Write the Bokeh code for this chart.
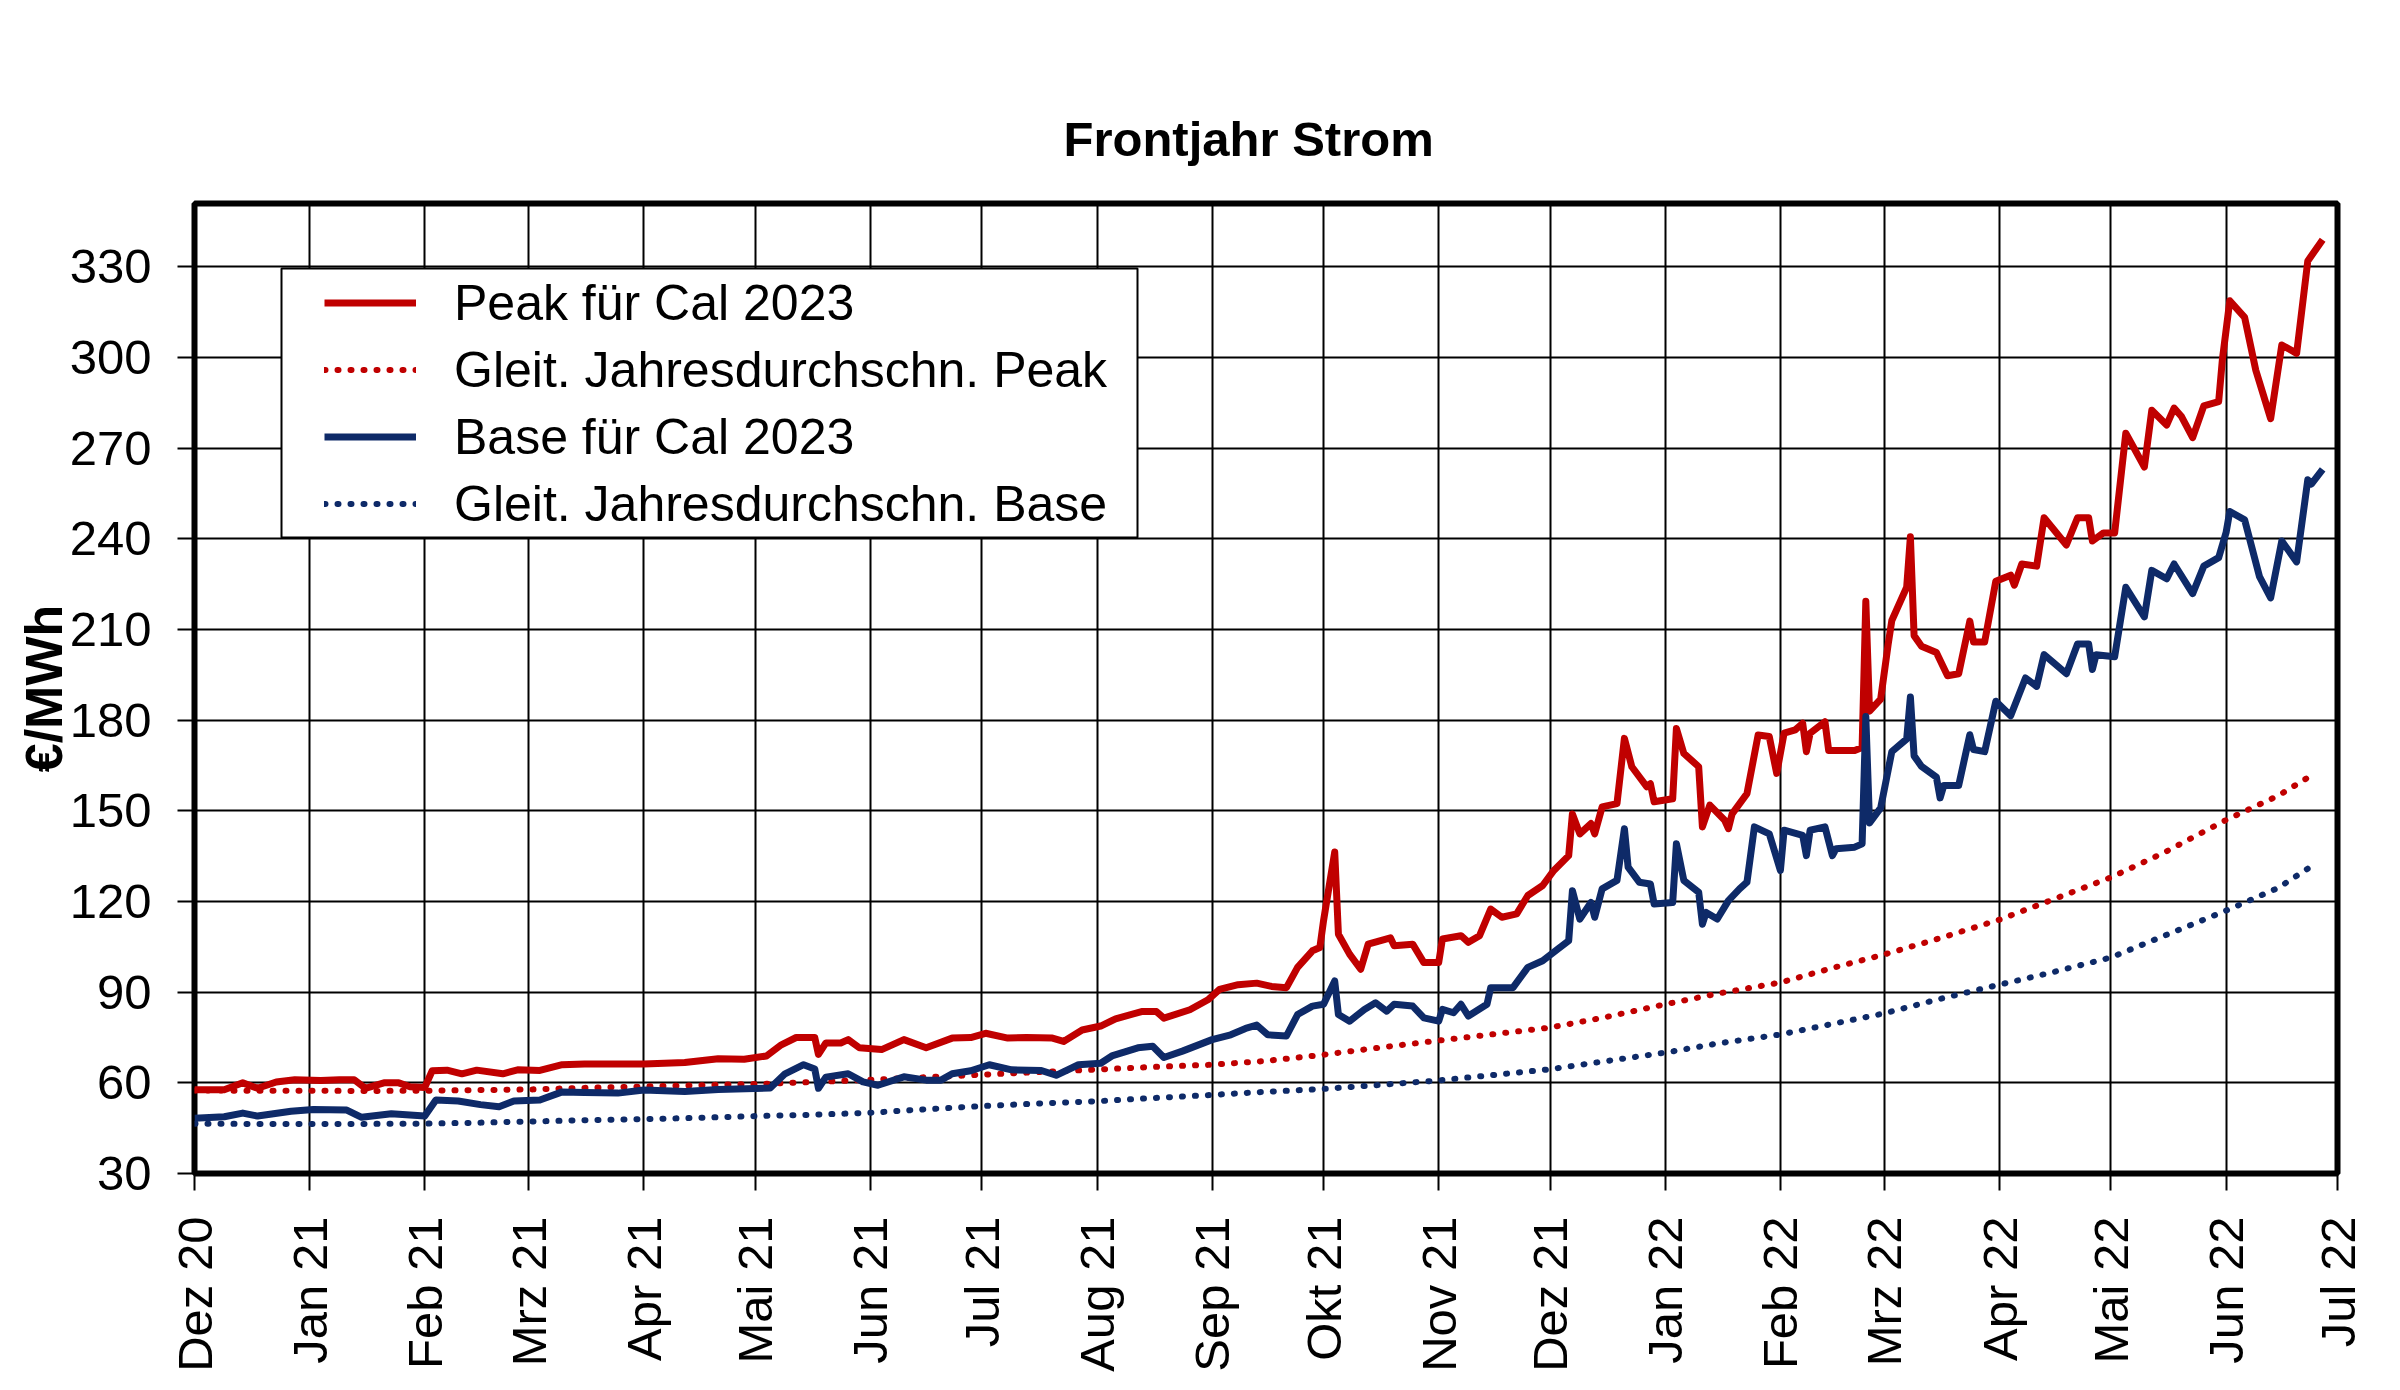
import math
import pandas as pd
from bokeh.plotting import figure
from bokeh.models import FixedTicker, Range1d, Legend, LegendItem, BoxAnnotation
from bokeh.embed import file_html
from bokeh.resources import INLINE

# ---------------- data ----------------
month_starts = ["2020-12-01", "2021-01-01", "2021-02-01", "2021-03-01", "2021-04-01",
                "2021-05-01", "2021-06-01", "2021-07-01", "2021-08-01", "2021-09-01",
                "2021-10-01", "2021-11-01", "2021-12-01", "2022-01-01", "2022-02-01",
                "2022-03-01", "2022-04-01", "2022-05-01", "2022-06-01", "2022-07-01"]
month_labels = ["Dez 20", "Jan 21", "Feb 21", "Mrz 21", "Apr 21", "Mai 21", "Jun 21",
                "Jul 21", "Aug 21", "Sep 21", "Okt 21", "Nov 21", "Dez 21", "Jan 22",
                "Feb 22", "Mrz 22", "Apr 22", "Mai 22", "Jun 22", "Jul 22"]
y_ticks = [30, 60, 90, 120, 150, 180, 210, 240, 270, 300, 330]

peak_dates = ["2020-12-01", "2020-12-09", "2020-12-14", "2020-12-18", "2020-12-23", "2020-12-28",
              "2021-01-04", "2021-01-09", "2021-01-13", "2021-01-16", "2021-01-21", "2021-01-25",
              "2021-01-28", "2021-02-01", "2021-02-03", "2021-02-07", "2021-02-11", "2021-02-15",
              "2021-02-22", "2021-02-26", "2021-03-04", "2021-03-10", "2021-03-16", "2021-04-01",
              "2021-04-12", "2021-04-21", "2021-04-28", "2021-05-04", "2021-05-08", "2021-05-12",
              "2021-05-17", "2021-05-18", "2021-05-20", "2021-05-24", "2021-05-26", "2021-05-29",
              "2021-06-04", "2021-06-10", "2021-06-16", "2021-06-23", "2021-06-28", "2021-07-02",
              "2021-07-08", "2021-07-13", "2021-07-20", "2021-07-23", "2021-07-28", "2021-08-02",
              "2021-08-06", "2021-08-13", "2021-08-17", "2021-08-19", "2021-08-26", "2021-08-31",
              "2021-09-03", "2021-09-08", "2021-09-13", "2021-09-17", "2021-09-21", "2021-09-24",
              "2021-09-28", "2021-09-30", "2021-10-01", "2021-10-04", "2021-10-05", "2021-10-08",
              "2021-10-11", "2021-10-13", "2021-10-19", "2021-10-20", "2021-10-25", "2021-10-28",
              "2021-11-01", "2021-11-02", "2021-11-07", "2021-11-09", "2021-11-12", "2021-11-15",
              "2021-11-18", "2021-11-22", "2021-11-25", "2021-11-29", "2021-12-02", "2021-12-06",
              "2021-12-07", "2021-12-09", "2021-12-12", "2021-12-13", "2021-12-15", "2021-12-19",
              "2021-12-21", "2021-12-23", "2021-12-27", "2021-12-28", "2021-12-29", "2022-01-03",
              "2022-01-04", "2022-01-06", "2022-01-10", "2022-01-11", "2022-01-13", "2022-01-17",
              "2022-01-18", "2022-01-19", "2022-01-23", "2022-01-26", "2022-01-29", "2022-01-31",
              "2022-02-02", "2022-02-05", "2022-02-07", "2022-02-08", "2022-02-09", "2022-02-13",
              "2022-02-14", "2022-02-21", "2022-02-23", "2022-02-24", "2022-02-25", "2022-02-28",
              "2022-03-02", "2022-03-03", "2022-03-07", "2022-03-08", "2022-03-09", "2022-03-11",
              "2022-03-15", "2022-03-18", "2022-03-21", "2022-03-24", "2022-03-25", "2022-03-28",
              "2022-03-31", "2022-04-04", "2022-04-05", "2022-04-07", "2022-04-11", "2022-04-13",
              "2022-04-19", "2022-04-22", "2022-04-25", "2022-04-26", "2022-04-29", "2022-05-02",
              "2022-05-05", "2022-05-10", "2022-05-12", "2022-05-16", "2022-05-18", "2022-05-20",
              "2022-05-23", "2022-05-26", "2022-05-30", "2022-05-31", "2022-06-02", "2022-06-06",
              "2022-06-09", "2022-06-13", "2022-06-16", "2022-06-20", "2022-06-23", "2022-06-27"]
peak_values = [57.7, 57.7, 60.0, 58.2, 60.3, 61.0,
               60.8, 61.0, 61.0, 58.2, 60.0, 60.0,
               58.7, 58.5, 64.0, 64.2, 63.0, 64.2,
               63.0, 64.3, 64.1, 66.0, 66.2, 66.2,
               66.7, 68.0, 67.8, 68.9, 72.6, 75.0,
               75.0, 69.4, 73.2, 73.2, 74.3, 71.6,
               71.0, 74.3, 71.6, 74.8, 75.0, 76.4,
               74.8, 75.0, 74.8, 73.7, 77.5, 78.8,
               81.2, 83.6, 83.6, 81.4, 84.2, 87.6,
               90.9, 92.5, 93.0, 91.9, 91.5, 98.2,
               103.7, 104.8, 113.7, 136.4, 109.2, 102.6,
               97.6, 105.9, 108.0, 105.4, 105.9, 99.8,
               99.8, 107.6, 108.7, 106.5, 108.7, 117.5,
               114.8, 115.9, 122.0, 125.3, 130.3, 135.2,
               149.0, 142.4, 145.8, 142.4, 151.3, 152.4,
               174.0, 164.6, 158.0, 159.0, 153.0, 154.0,
               177.3, 169.0, 164.6, 144.7, 151.9, 146.9,
               144.1, 149.0, 155.7, 175.1, 174.6, 162.4,
               175.7, 176.8, 179.0, 169.6, 175.7, 179.5,
               170.0, 170.0, 171.0, 219.4, 183.0, 187.0,
               205.0, 213.0, 224.0, 240.7, 208.0, 204.5,
               202.4, 194.7, 195.4, 212.8, 205.9, 205.9,
               226.0, 228.0, 224.7, 231.7, 231.0, 247.0,
               238.0, 247.0, 247.0, 239.3, 242.0, 242.0,
               275.0, 263.8, 282.6, 277.7, 283.3, 280.5,
               273.5, 284.0, 285.4, 299.3, 318.8, 313.3,
               295.8, 279.8, 304.2, 301.4, 332.0, 339.0]

base_dates = ["2020-12-01", "2020-12-09", "2020-12-14", "2020-12-18", "2020-12-27", "2021-01-02",
              "2021-01-11", "2021-01-15", "2021-01-23", "2021-02-01", "2021-02-04", "2021-02-10",
              "2021-02-16", "2021-02-21", "2021-02-25", "2021-03-04", "2021-03-10", "2021-03-16",
              "2021-03-25", "2021-04-01", "2021-04-12", "2021-04-21", "2021-05-05", "2021-05-09",
              "2021-05-14", "2021-05-17", "2021-05-18", "2021-05-20", "2021-05-26", "2021-05-30",
              "2021-06-03", "2021-06-10", "2021-06-16", "2021-06-20", "2021-06-23", "2021-06-28",
              "2021-07-03", "2021-07-09", "2021-07-17", "2021-07-21", "2021-07-27", "2021-08-02",
              "2021-08-05", "2021-08-12", "2021-08-16", "2021-08-19", "2021-08-24", "2021-09-01",
              "2021-09-06", "2021-09-10", "2021-09-13", "2021-09-16", "2021-09-21", "2021-09-24",
              "2021-09-28", "2021-10-01", "2021-10-04", "2021-10-05", "2021-10-08", "2021-10-12",
              "2021-10-15", "2021-10-18", "2021-10-20", "2021-10-25", "2021-10-28", "2021-11-01",
              "2021-11-02", "2021-11-05", "2021-11-07", "2021-11-09", "2021-11-14", "2021-11-15",
              "2021-11-21", "2021-11-25", "2021-11-29", "2021-12-03", "2021-12-06", "2021-12-07",
              "2021-12-09", "2021-12-12", "2021-12-13", "2021-12-15", "2021-12-19", "2021-12-21",
              "2021-12-22", "2021-12-25", "2021-12-28", "2021-12-29", "2022-01-03", "2022-01-04",
              "2022-01-06", "2022-01-10", "2022-01-11", "2022-01-12", "2022-01-15", "2022-01-18",
              "2022-01-21", "2022-01-23", "2022-01-25", "2022-01-29", "2022-02-01", "2022-02-02",
              "2022-02-07", "2022-02-08", "2022-02-09", "2022-02-13", "2022-02-15", "2022-02-16",
              "2022-02-21", "2022-02-23", "2022-02-24", "2022-02-25", "2022-02-28", "2022-03-03",
              "2022-03-07", "2022-03-08", "2022-03-09", "2022-03-11", "2022-03-15", "2022-03-16",
              "2022-03-17", "2022-03-21", "2022-03-24", "2022-03-25", "2022-03-28", "2022-03-31",
              "2022-04-04", "2022-04-08", "2022-04-11", "2022-04-13", "2022-04-19", "2022-04-22",
              "2022-04-25", "2022-04-26", "2022-04-27", "2022-05-02", "2022-05-05", "2022-05-10",
              "2022-05-12", "2022-05-16", "2022-05-18", "2022-05-23", "2022-05-26", "2022-05-30",
              "2022-06-01", "2022-06-02", "2022-06-06", "2022-06-10", "2022-06-13", "2022-06-16",
              "2022-06-20", "2022-06-23", "2022-06-24", "2022-06-27"]
base_values = [48.3, 48.8, 50.0, 49.0, 50.6, 51.2,
               51.0, 48.6, 49.8, 49.0, 54.3, 54.0,
               52.8, 52.1, 54.0, 54.3, 57.0, 56.8,
               56.6, 57.6, 57.1, 57.8, 58.3, 63.0,
               66.0, 64.6, 58.2, 61.9, 63.0, 60.3,
               59.2, 62.0, 60.9, 60.9, 63.0, 64.0,
               66.0, 64.3, 64.1, 62.5, 66.0, 66.5,
               68.9, 71.6, 72.1, 68.4, 70.5, 74.3,
               75.9, 78.0, 79.1, 75.9, 75.5, 82.6,
               85.4, 86.0, 93.7, 82.6, 80.4, 84.3,
               86.5, 83.7, 86.0, 85.4, 81.5, 80.4,
               84.3, 83.2, 86.0, 82.1, 86.0, 91.5,
               91.5, 98.2, 100.4, 104.2, 107.0, 123.6,
               114.2, 119.7, 114.8, 124.2, 127.0, 144.1,
               131.4, 126.4, 125.8, 119.2, 119.7, 139.1,
               127.0, 123.1, 112.5, 116.4, 114.2, 120.3,
               124.2, 126.4, 144.7, 142.4, 130.3, 143.6,
               141.9, 135.2, 143.6, 144.7, 135.2, 137.5,
               138.0, 139.1, 181.2, 146.0, 151.0, 169.6,
               173.8, 187.7, 168.2, 164.7, 161.2, 154.3,
               158.4, 158.4, 175.2, 170.3, 169.6, 186.3,
               181.5, 194.0, 191.2, 201.7, 195.4, 205.2,
               205.2, 196.8, 201.7, 201.0, 224.0, 214.2,
               229.6, 226.8, 231.7, 221.9, 231.0, 233.8,
               242.1, 249.1, 246.3, 227.5, 220.5, 239.3,
               232.4, 259.6, 258.2, 263.0]

avg_dates = ["2020-12-01", "2020-12-15", "2021-01-01", "2021-01-15", "2021-02-01", "2021-02-15",
             "2021-03-01", "2021-03-15", "2021-04-01", "2021-04-15", "2021-05-01", "2021-05-15",
             "2021-06-01", "2021-06-15", "2021-07-01", "2021-07-15", "2021-08-01", "2021-08-15",
             "2021-09-01", "2021-09-15", "2021-10-01", "2021-10-15", "2021-11-01", "2021-11-15",
             "2021-12-01", "2021-12-15", "2022-01-01", "2022-01-15", "2022-02-01", "2022-02-15",
             "2022-03-01", "2022-03-15", "2022-04-01", "2022-04-15", "2022-05-01", "2022-05-15",
             "2022-06-01", "2022-06-15", "2022-06-25"]
peak_avg_values = [57.5, 57.4, 57.4, 57.3, 57.4, 57.6,
                   57.8, 58.3, 58.8, 59.2, 59.6, 60.2,
                   61.0, 61.8, 62.7, 63.5, 64.4, 65.2,
                   66.0, 67.2, 69.3, 71.5, 74.0, 76.0,
                   78.3, 81.5, 86.0, 89.5, 93.2, 98.0,
                   102.5, 107.5, 114.0, 120.5, 128.0, 136.0,
                   147.0, 155.0, 162.5]
base_avg_values = [46.5, 46.4, 46.4, 46.4, 46.5, 46.8,
                   47.2, 47.6, 48.0, 48.4, 49.0, 49.4,
                   50.1, 51.2, 52.3, 53.1, 53.9, 54.9,
                   56.0, 57.0, 58.0, 59.2, 60.8, 62.5,
                   64.5, 67.0, 70.0, 73.0, 76.0, 79.5,
                   83.0, 87.5, 92.5, 96.5, 101.5, 108.5,
                   117.0, 124.5, 132.5]

# ---------------- helpers ----------------
EPOCH = pd.Timestamp("1970-01-01")


def to_ms(dates):
    return [float((pd.Timestamp(d) - EPOCH) // pd.Timedelta(milliseconds=1)) for d in dates]


RED = "#C00000"
BLUE = "#0E2A68"
FONT = "Liberation Sans"

month_ms = to_ms(month_starts)

p = figure(width=2384, height=1374, output_backend="svg", toolbar_location=None,
           x_range=Range1d(month_ms[0], month_ms[-1]), y_range=Range1d(30, 351),
           min_border_left=194, min_border_right=47, min_border_top=203,
           min_border_bottom=199, background_fill_color="white",
           border_fill_color="white")

# title
p.title.text = "Frontjahr Strom"
p.title.text_font = FONT
p.title.text_font_size = "49px"
p.title.text_font_style = "bold"
p.title.text_color = "black"
p.title.align = "left"
p.title.offset = 869
p.title.standoff = 75

# frame
p.outline_line_color = "black"
p.outline_line_width = 6
p.outline_line_alpha = 1

# grids
p.xgrid.ticker = FixedTicker(ticks=month_ms)
p.ygrid.ticker = FixedTicker(ticks=y_ticks)
for g in (p.xgrid, p.ygrid):
    g.grid_line_color = "black"
    g.grid_line_width = 2
    g.grid_line_alpha = 1

# axes
p.xaxis.ticker = FixedTicker(ticks=month_ms)
p.xaxis.major_label_overrides = {t: lab for t, lab in zip(month_ms, month_labels)}
p.xaxis.major_label_orientation = math.pi / 2
p.yaxis.ticker = FixedTicker(ticks=y_ticks)
p.yaxis.axis_label = "€/MWh"
p.yaxis.axis_label_text_font = FONT
p.yaxis.axis_label_text_font_size = "52px"
p.yaxis.axis_label_text_font_style = "bold"
p.yaxis.axis_label_text_color = "black"
p.yaxis.axis_label_standoff = -6
for ax in (p.xaxis, p.yaxis):
    ax.axis_line_color = None
    ax.major_tick_out = 17
    ax.major_tick_in = 0
    ax.major_tick_line_color = "black"
    ax.major_tick_line_width = 2
    ax.minor_tick_line_color = None
    ax.major_label_text_font = FONT
    ax.major_label_text_font_size = "49px"
    ax.major_label_text_color = "black"
    ax.major_label_standoff = 26

# series
r_peak = p.line(to_ms(peak_dates), peak_values, line_color=RED, line_width=7,
                line_join="round")
r_peak_avg = p.line(to_ms(avg_dates), peak_avg_values, line_color=RED, line_width=6,
                    line_dash="1 12", line_cap="round")
r_base = p.line(to_ms(base_dates), base_values, line_color=BLUE, line_width=7,
                line_join="round")
r_base_avg = p.line(to_ms(avg_dates), base_avg_values, line_color=BLUE, line_width=6,
                    line_dash="1 12", line_cap="round")

# legend frame (screen units, relative to the plot frame)
legend_box = BoxAnnotation(left=87, right=943, bottom=636, top=905,
                           left_units="screen", right_units="screen",
                           bottom_units="screen", top_units="screen",
                           fill_color="white", fill_alpha=1,
                           line_color="black", line_width=2, line_alpha=1,
                           propagate_hover=False)
p.add_layout(legend_box)

legend = Legend(items=[
    LegendItem(label="Peak für Cal 2023", renderers=[r_peak]),
    LegendItem(label="Gleit. Jahresdurchschn. Peak", renderers=[r_peak_avg]),
    LegendItem(label="Base für Cal 2023", renderers=[r_base]),
    LegendItem(label="Gleit. Jahresdurchschn. Base", renderers=[r_base_avg]),
], location=(130, 636))
legend.label_text_font = FONT
legend.label_text_font_size = "50px"
legend.label_text_color = "black"
legend.glyph_width = 92
legend.glyph_height = 67
legend.label_height = 67
legend.label_standoff = 38
legend.padding = 0
legend.spacing = 0
legend.margin = 0
legend.border_line_color = None
legend.background_fill_alpha = 0
p.add_layout(legend, "center")

open("out.html", "w").write(file_html(p, INLINE))
